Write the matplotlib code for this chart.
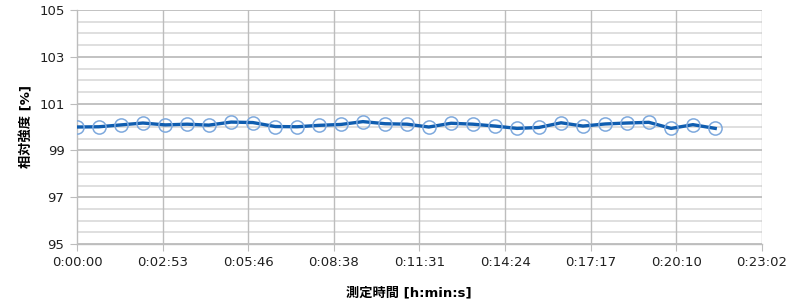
import matplotlib.pyplot as plt
import numpy as np

plt.rcParams['font.family'] = ['DejaVu Sans', 'Noto Sans CJK JP']

# measurement times (h:m:s) and relative intensity [%]
times = ["0:00:00", "0:00:44", "0:01:29", "0:02:13", "0:02:58", "0:03:42",
         "0:04:26", "0:05:11", "0:05:55", "0:06:40", "0:07:24", "0:08:08",
         "0:08:53", "0:09:37", "0:10:22", "0:11:06", "0:11:50", "0:12:35",
         "0:13:19", "0:14:04", "0:14:48", "0:15:32", "0:16:17", "0:17:01",
         "0:17:46", "0:18:30", "0:19:14", "0:19:59", "0:20:43", "0:21:28"]
intensity = [100.00, 100.01, 100.09, 100.17, 100.09, 100.12, 100.08, 100.21,
             100.19, 100.02, 100.01, 100.07, 100.11, 100.23, 100.14, 100.12,
             100.00, 100.16, 100.12, 100.04, 99.94, 99.98, 100.18, 100.04,
             100.13, 100.17, 100.20, 99.94, 100.10, 99.94]

# x axis ticks every 0.002 day, like the spreadsheet
x_tick_labels = ["0:00:00", "0:02:53", "0:05:46", "0:08:38", "0:11:31",
                 "0:14:24", "0:17:17", "0:20:10", "0:23:02"]
y_ticks = [95, 97, 99, 101, 103, 105]


def to_seconds(s):
    h, m, sec = (int(v) for v in s.split(":"))
    return h * 3600 + m * 60 + sec


secs = np.array([to_seconds(t) for t in times])
x_ticks = np.arange(len(x_tick_labels)) * 172.8

fig = plt.figure(figsize=(8, 3.07), dpi=100)
ax = fig.add_axes([77 / 800, 1 - 244 / 307, (762 - 77) / 800, (244 - 10) / 307])

# grid
for y in np.arange(95.5, 105, 0.5):
    if y not in y_ticks:
        ax.axhline(y, color='#dcdcdc', lw=1.3, zorder=0)
for y in y_ticks:
    ax.axhline(y, color='#bdbdbd', lw=1.3, zorder=0)
for x in x_ticks[1:]:
    ax.axvline(x, color='#bdbdbd', lw=1.0, zorder=0)

ax.plot(secs, intensity, color='#0f5db0', lw=2.4, zorder=3)
ax.plot(secs, intensity, ls='none', marker='o', ms=9.5, mfc='none',
        mec='#7ea9dd', mew=1.1, zorder=4)

ax.set_xlim(0, x_ticks[-1])
ax.set_ylim(95, 105)
ax.set_xticks(x_ticks)
ax.set_xticklabels(x_tick_labels)
ax.set_yticks(y_ticks)

for side in ['top', 'right']:
    ax.spines[side].set_visible(False)
for side in ['left', 'bottom']:
    ax.spines[side].set_color('#bdbdbd')
    ax.spines[side].set_linewidth(1.0)
ax.tick_params(axis='both', direction='out', length=5, color='#bdbdbd',
               labelsize=9.5, labelcolor='#202020', pad=4)

ax.set_ylabel('相対強度 [%]', fontsize=9.5, fontweight='bold',
              family=['DejaVu Sans', 'Noto Sans CJK JP'])
ax.set_xlabel('測定時間 [h:min:s]', fontsize=9.5, fontweight='bold',
              family=['DejaVu Sans', 'Noto Sans CJK JP'])
ax.yaxis.set_label_coords(-0.064, 0.5)
ax.xaxis.set_label_coords(0.485, -0.18)

fig.savefig('out.png', dpi=100)
